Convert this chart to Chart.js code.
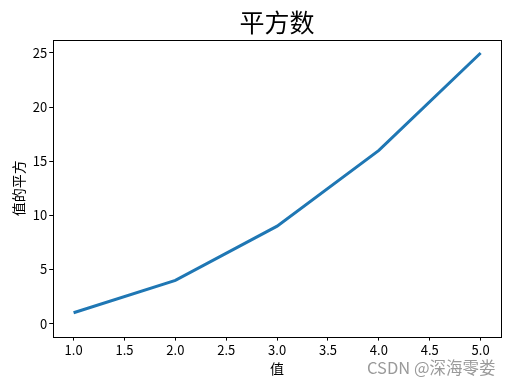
<!DOCTYPE html>
<html lang="zh">
<head>
<meta charset="UTF-8">
<title>平方数</title>
<script src="https://cdn.jsdelivr.net/npm/chart.js"></script>
<style>
  html, body { margin: 0; padding: 0; background: #fff; }
  #wrap { position: relative; width: 513px; height: 385px; }
  #watermark {
    position: absolute; left: 367px; top: 355px;
    font: 16.5px "Noto Sans CJK SC", sans-serif; color: #9a9a9a;
  }
</style>
</head>
<body>
<div id="wrap">
  <canvas id="squares" width="513" height="385"></canvas>
  <div id="watermark">CSDN @深海零娄</div>
</div>
<script>
  // data
  var inputValues = [1, 2, 3, 4, 5];
  var squares = [1, 4, 9, 16, 25];
  var xTicks = [1.0, 1.5, 2.0, 2.5, 3.0, 3.5, 4.0, 4.5, 5.0];
  var yTicks = [0, 5, 10, 15, 20, 25];

  var cjk = '"Noto Sans CJK SC", sans-serif';

  // matplotlib style closed frame around the axes
  var frame = {
    id: 'frame',
    afterDraw: function (chart) {
      var a = chart.chartArea, c = chart.ctx;
      c.save();
      c.strokeStyle = '#000';
      c.lineWidth = 1;
      c.strokeRect(Math.round(a.left) + 0.5, Math.round(a.top) + 0.5,
                   Math.round(a.right - a.left), Math.round(a.bottom - a.top));
      c.restore();
    }
  };

  var ctx = document.getElementById('squares').getContext('2d');
  new Chart(ctx, {
    type: 'line',
    data: {
      datasets: [{
        data: inputValues.map(function (v, i) { return { x: v, y: squares[i] }; }),
        borderColor: '#1f77b4',
        borderWidth: 3,
        pointRadius: 0,
        tension: 0,
        fill: false
      }]
    },
    plugins: [frame],
    options: {
      responsive: false,
      animation: false,
      layout: { padding: { left: 10, right: 12, top: 7, bottom: 8 } },
      plugins: {
        legend: { display: false },
        tooltip: { enabled: false },
        title: {
          display: true,
          text: '平方数',
          fullSize: false,
          color: '#000',
          font: { family: cjk, size: 25, weight: 'normal' },
          padding: { top: 0, bottom: 3 }
        }
      },
      scales: {
        x: {
          type: 'linear',
          min: 0.8,
          max: 5.2,
          afterBuildTicks: function (axis) {
            axis.ticks = xTicks.map(function (v) { return { value: v }; });
          },
          ticks: {
            color: '#000',
            font: { family: cjk, size: 13 },
            padding: 2,
            maxRotation: 0,
            callback: function (v) { return v.toFixed(1); }
          },
          grid: { drawOnChartArea: false, tickLength: 4, tickColor: '#000' },
          border: { display: false },
          title: {
            display: true,
            text: '值',
            color: '#000',
            font: { family: cjk, size: 14 },
            padding: { top: 0, bottom: 0 }
          }
        },
        y: {
          min: -1.2,
          max: 26.2,
          afterBuildTicks: function (axis) {
            axis.ticks = yTicks.map(function (v) { return { value: v }; });
          },
          ticks: {
            color: '#000',
            font: { family: cjk, size: 13 },
            padding: 2
          },
          grid: { drawOnChartArea: false, tickLength: 4, tickColor: '#000' },
          border: { display: false },
          title: {
            display: true,
            text: '值的平方',
            color: '#000',
            font: { family: cjk, size: 14 },
            padding: { top: 0, bottom: 4 }
          }
        }
      }
    }
  });
</script>
</body>
</html>
